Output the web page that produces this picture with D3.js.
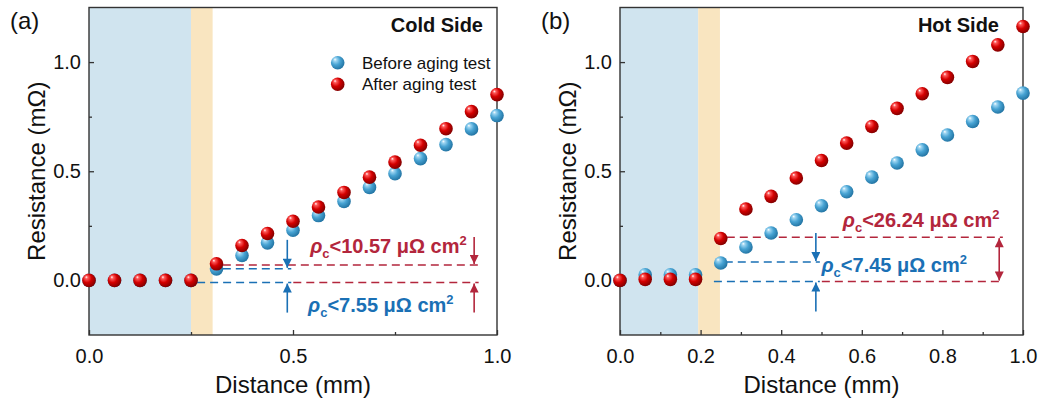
<!DOCTYPE html>
<html>
<head>
<meta charset="utf-8">
<script src="https://cdn.jsdelivr.net/npm/d3@7/dist/d3.min.js"></script>
<style>
  html, body { margin: 0; padding: 0; background: #fff; }
  svg { display: block; font-family: "Liberation Sans", Arial, sans-serif; }
</style>
</head>
<body>
<svg id="chart" width="1048" height="406"></svg>
<script>
// Measurement positions along the sample (mm), 17 points
const distance = [0, 0.0625, 0.125, 0.1875, 0.25, 0.3125, 0.375, 0.4375, 0.5,
                  0.5625, 0.625, 0.6875, 0.75, 0.8125, 0.875, 0.9375, 1.0];

// Cold side resistance (mΩ)
const coldBefore = [0, 0, 0, 0, 0, 0.053, 0.114, 0.172, 0.230, 0.297, 0.362,
                    0.426, 0.489, 0.558, 0.622, 0.694, 0.755];
const coldAfter  = [0, 0, 0, 0, 0, 0.076, 0.160, 0.215, 0.271, 0.336, 0.403,
                    0.473, 0.542, 0.619, 0.695, 0.773, 0.851];

// Hot side resistance (mΩ)
const hotBefore = [0, 0.026, 0.026, 0.026, 0.080, 0.153, 0.217, 0.278, 0.342,
                   0.406, 0.473, 0.538, 0.598, 0.666, 0.728, 0.794, 0.858];
const hotAfter  = [0, 0.005, 0.005, 0.005, 0.192, 0.327, 0.385, 0.469, 0.549,
                   0.629, 0.705, 0.788, 0.855, 0.930, 1.003, 1.079, 1.163];

// Region boundaries (mm): electrode layer, then interface layer
const coldRegions = [0.25, 0.303];
const hotRegions  = [0.194, 0.248];

// Contact resistivity labels
const coldLabels = ["10.57", "7.55"];
const hotLabels  = ["26.24", "7.45"];

// Reference levels for the step annotations (mΩ): baseline, before step, after step
const coldLevels = [-0.01, 0.053, 0.071];
const hotLevels  = [-0.005, 0.084, 0.198];

const coldXTicks = [0, 0.5, 1.0];
const coldXMinor = [0.25, 0.75];
const hotXTicks  = [0, 0.2, 0.4, 0.6, 0.8, 1.0];
const hotXMinor  = [0.1, 0.3, 0.5, 0.7, 0.9];
const yTicks = [0, 0.5, 1.0];
const yMinor = [0.25, 0.75];

const seriesNames = ["Before aging test", "After aging test"];

const RED = "#b3263c";
const BLUE = "#1a70b5";
const FRAME = "#333";

const svg = d3.select("#chart");
const defs = svg.append("defs");

function sphereGradient(id, light, base, dark) {
  const g = defs.append("radialGradient").attr("id", id)
    .attr("cx", "40%").attr("cy", "40%").attr("r", "60%")
    .attr("fx", "30%").attr("fy", "25%");
  g.append("stop").attr("offset", "0%").attr("stop-color", "#fff");
  g.append("stop").attr("offset", "18%").attr("stop-color", light);
  g.append("stop").attr("offset", "55%").attr("stop-color", base);
  g.append("stop").attr("offset", "100%").attr("stop-color", dark);
}
sphereGradient("ballBlue", "#9fd6f2", "#47a3d3", "#2476a5");
sphereGradient("ballRed", "#ff5a5a", "#d40000", "#850000");

function arrowMarker(id, color) {
  defs.append("marker").attr("id", id)
    .attr("viewBox", "0 0 10 10").attr("refX", 10).attr("refY", 5)
    .attr("markerUnits", "userSpaceOnUse")
    .attr("markerWidth", 13).attr("markerHeight", 9)
    .attr("orient", "auto-start-reverse")
    .append("path").attr("d", "M0,0 L10,5 L0,10 Z").attr("fill", color);
}
arrowMarker("arrBlue", BLUE);
arrowMarker("arrRed", RED);

function rhoLabel(g, x, y, value, color) {
  const t = g.append("text").attr("x", x).attr("y", y)
    .attr("fill", color).attr("font-weight", "bold").attr("font-size", 20);
  t.append("tspan").attr("font-style", "italic").text("ρ");
  t.append("tspan").attr("font-size", 13).attr("dy", 5).text("c");
  t.append("tspan").attr("dy", -5).text("<" + value + " μΩ cm");
  t.append("tspan").attr("font-size", 13).attr("dy", -8).text("2");
}

function drawPanel(opt) {
  const g = svg.append("g");
  const x = d3.scaleLinear().domain([0, 1]).range([opt.left, opt.right]);
  const y = d3.scaleLinear().domain([-0.25, 1.25]).range([335, 7.5]);

  // shaded layers
  g.append("rect").attr("x", x(0)).attr("y", y(1.25))
    .attr("width", x(opt.regions[0]) - x(0)).attr("height", y(-0.25) - y(1.25))
    .attr("fill", "#d0e4ef");
  g.append("rect").attr("x", x(opt.regions[0])).attr("y", y(1.25))
    .attr("width", x(opt.regions[1]) - x(opt.regions[0])).attr("height", y(-0.25) - y(1.25))
    .attr("fill", "#f9e5c0");

  // axes with inward ticks
  const xAxis = g.append("g").attr("transform", `translate(0,${y(-0.25)})`)
    .call(d3.axisBottom(x).tickValues(opt.xTicks).tickSize(-5).tickPadding(14)
      .tickFormat(d3.format(".1f")));
  const xMinor = g.append("g").attr("transform", `translate(0,${y(-0.25)})`)
    .call(d3.axisBottom(x).tickValues(opt.xMinor).tickSize(-3).tickFormat(""));
  const yAxis = g.append("g").attr("transform", `translate(${x(0)},0)`)
    .call(d3.axisLeft(y).tickValues(yTicks).tickSize(-5).tickPadding(8)
      .tickFormat(d3.format(".1f")));
  const yMin = g.append("g").attr("transform", `translate(${x(0)},0)`)
    .call(d3.axisLeft(y).tickValues(yMinor).tickSize(-3).tickFormat(""));
  [xAxis, xMinor, yAxis, yMin].forEach(a => {
    a.select(".domain").remove();
    a.selectAll(".tick line").attr("stroke", FRAME).attr("stroke-width", 1.3);
    a.selectAll("text").attr("font-size", 20).attr("fill", "#111")
      .attr("font-family", "Liberation Sans, Arial, sans-serif");
  });

  // frame
  g.append("rect").attr("x", x(0)).attr("y", y(1.25))
    .attr("width", x(1) - x(0)).attr("height", y(-0.25) - y(1.25))
    .attr("fill", "none").attr("stroke", FRAME).attr("stroke-width", 1.4);

  // axis titles
  g.append("text").attr("x", (x(0) + x(1)) / 2).attr("y", 393)
    .attr("text-anchor", "middle").attr("font-size", 24).attr("fill", "#111")
    .text("Distance (mm)");
  g.append("text")
    .attr("transform", `translate(${opt.left - 44},${(y(-0.25) + y(1.25)) / 2}) rotate(-90)`)
    .attr("text-anchor", "middle").attr("font-size", 24).attr("fill", "#111")
    .text("Resistance (mΩ)");

  // panel letter and title
  g.append("text").attr("x", opt.left - 79).attr("y", 29)
    .attr("font-size", 24).attr("fill", "#111").text(opt.letter);
  g.append("text").attr("x", opt.titleRight).attr("y", 32)
    .attr("text-anchor", "end").attr("font-size", 20).attr("font-weight", "bold")
    .attr("fill", "#111").text(opt.title);

  // step annotations
  const lv = opt.levels;
  const dash = "8,5";
  const ann = opt.ann;
  // blue lines (baseline and "before" step)
  g.append("line").attr("x1", x(ann.baseStart)).attr("x2", x(ann.blueArrowX) + 4)
    .attr("y1", y(lv[0])).attr("y2", y(lv[0]))
    .attr("stroke", BLUE).attr("stroke-width", 1.5).attr("stroke-dasharray", dash);
  g.append("line").attr("x1", x(ann.stepStart)).attr("x2", x(ann.blueArrowX) + 4)
    .attr("y1", y(lv[1])).attr("y2", y(lv[1]))
    .attr("stroke", BLUE).attr("stroke-width", 1.5).attr("stroke-dasharray", dash);
  // red lines (baseline continuation and "after" step)
  g.append("line").attr("x1", x(ann.blueArrowX) + 6).attr("x2", x(ann.redEnd))
    .attr("y1", y(lv[0])).attr("y2", y(lv[0]))
    .attr("stroke", RED).attr("stroke-width", 1.5).attr("stroke-dasharray", dash);
  g.append("line").attr("x1", x(ann.redStart)).attr("x2", x(ann.redEnd))
    .attr("y1", y(lv[2])).attr("y2", y(lv[2]))
    .attr("stroke", RED).attr("stroke-width", 1.5).attr("stroke-dasharray", dash);

  // blue arrows: pointing down to the step, up to the baseline
  g.append("line").attr("x1", x(ann.blueArrowX)).attr("x2", x(ann.blueArrowX))
    .attr("y1", y(lv[1]) - 29).attr("y2", y(lv[1]) - 1)
    .attr("stroke", BLUE).attr("stroke-width", 1.6).attr("marker-end", "url(#arrBlue)");
  g.append("line").attr("x1", x(ann.blueArrowX)).attr("x2", x(ann.blueArrowX))
    .attr("y1", y(lv[0]) + 30).attr("y2", y(lv[0]) + 1)
    .attr("stroke", BLUE).attr("stroke-width", 1.6).attr("marker-end", "url(#arrBlue)");

  // red arrows
  if (ann.redDouble) {
    g.append("line").attr("x1", x(ann.redArrowX)).attr("x2", x(ann.redArrowX))
      .attr("y1", y(lv[2]) + 1).attr("y2", y(lv[0]) - 1)
      .attr("stroke", RED).attr("stroke-width", 1.6)
      .attr("marker-start", "url(#arrRed)").attr("marker-end", "url(#arrRed)");
  } else {
    g.append("line").attr("x1", x(ann.redArrowX)).attr("x2", x(ann.redArrowX))
      .attr("y1", y(lv[2]) - 28).attr("y2", y(lv[2]) - 1)
      .attr("stroke", RED).attr("stroke-width", 1.6).attr("marker-end", "url(#arrRed)");
    g.append("line").attr("x1", x(ann.redArrowX)).attr("x2", x(ann.redArrowX))
      .attr("y1", y(lv[0]) + 30).attr("y2", y(lv[0]) + 1)
      .attr("stroke", RED).attr("stroke-width", 1.6).attr("marker-end", "url(#arrRed)");
  }

  rhoLabel(g, x(ann.redLabel[0]), y(ann.redLabel[1]), opt.labels[0], RED);
  rhoLabel(g, x(ann.blueLabel[0]), y(ann.blueLabel[1]), opt.labels[1], BLUE);

  // data spheres: before first, after on top
  const r = 6.8;
  g.append("g").selectAll("circle").data(distance)
    .join("circle").attr("cx", d => x(d)).attr("cy", (d, i) => y(opt.before[i]))
    .attr("r", r).attr("fill", "url(#ballBlue)");
  g.append("g").selectAll("circle").data(distance)
    .join("circle").attr("cx", d => x(d)).attr("cy", (d, i) => y(opt.after[i]))
    .attr("r", r).attr("fill", "url(#ballRed)");

  return { x, y, g };
}

const cold = drawPanel({
  left: 89, right: 497, regions: coldRegions,
  xTicks: coldXTicks, xMinor: coldXMinor,
  before: coldBefore, after: coldAfter,
  letter: "(a)", title: "Cold Side", titleRight: 483,
  levels: coldLevels, labels: coldLabels,
  ann: {
    baseStart: 0.265, stepStart: 0.328, redStart: 0.328, redEnd: 0.955,
    blueArrowX: 0.486, redArrowX: 0.944, redDouble: false,
    redLabel: [0.542, 0.126], blueLabel: [0.537, -0.143]
  }
});

const hot = drawPanel({
  left: 620, right: 1023, regions: hotRegions,
  xTicks: hotXTicks, xMinor: hotXMinor,
  before: hotBefore, after: hotAfter,
  letter: "(b)", title: "Hot Side", titleRight: 999,
  levels: hotLevels, labels: hotLabels,
  ann: {
    baseStart: 0.233, stepStart: 0.26, redStart: 0.265, redEnd: 0.95,
    blueArrowX: 0.486, redArrowX: 0.941, redDouble: true,
    redLabel: [0.553, 0.246], blueLabel: [0.50, 0.04]
  }
});

// legend in the cold-side panel
const legend = svg.append("g");
const legendY = [62.7, 84.3];
const legendFill = ["url(#ballBlue)", "url(#ballRed)"];
seriesNames.forEach((name, i) => {
  legend.append("circle").attr("cx", 337.7).attr("cy", legendY[i]).attr("r", 6.8)
    .attr("fill", legendFill[i]);
  legend.append("text").attr("x", 362).attr("y", legendY[i] + 6)
    .attr("font-size", 17).attr("fill", "#111").text(name);
});
</script>
</body>
</html>
